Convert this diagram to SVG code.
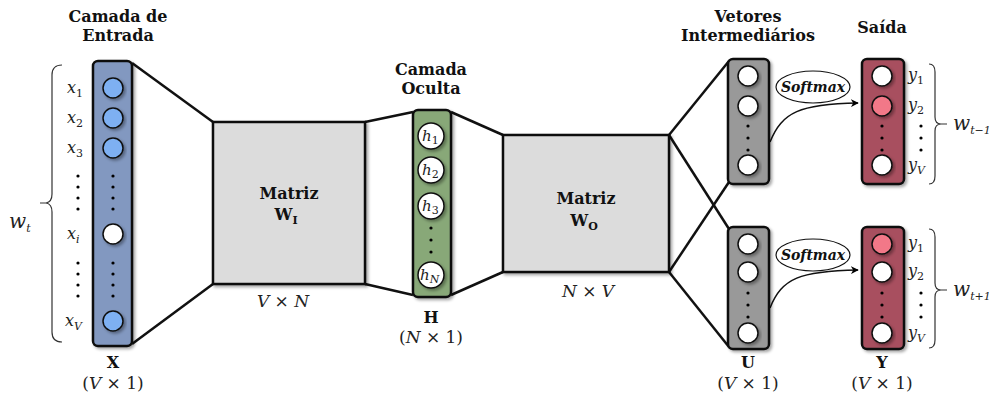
<svg xmlns="http://www.w3.org/2000/svg" width="996" height="401" viewBox="0 0 996 401">
<defs>
<filter id="sh" x="-20%" y="-20%" width="140%" height="140%">
<feDropShadow dx="2" dy="2" stdDeviation="1.5" flood-color="#000" flood-opacity="0.35"/>
</filter>
<marker id="arr" viewBox="0 0 10 10" refX="9" refY="5" markerWidth="8" markerHeight="8" markerUnits="userSpaceOnUse" orient="auto">
<path d="M0,0 L10,5 L0,10 L3,5 z" fill="#000"/>
</marker>
<g id="dots3"><circle cx="0" cy="0" r="1.6"/><circle cx="0" cy="12" r="1.6"/><circle cx="0" cy="24" r="1.6"/></g>
<g id="dots4"><circle cx="0" cy="0" r="1.6"/><circle cx="0" cy="11" r="1.6"/><circle cx="0" cy="22" r="1.6"/><circle cx="0" cy="33" r="1.6"/></g>
</defs>
<style>
.title{font-family:"DejaVu Serif","Liberation Serif",serif;font-weight:bold;font-size:16px;text-anchor:middle;fill:#111}
.mlab{font-family:"DejaVu Serif","Liberation Serif",serif;font-weight:bold;font-size:16px;text-anchor:middle;fill:#111}
.math{font-family:"DejaVu Serif","Liberation Serif",serif;font-style:italic;font-size:16px;fill:#222}
.mathc{font-family:"DejaVu Serif","Liberation Serif",serif;font-style:italic;font-size:17px;fill:#222;text-anchor:middle}
.big{font-size:20px}
.hm{font-size:15px}
.up{font-style:normal}
.sub{font-size:11px}
.bold{font-family:"DejaVu Serif","Liberation Serif",serif;font-weight:bold;font-size:16px;text-anchor:middle;fill:#111}
.bar{stroke:#111;stroke-width:2.5}
.node{stroke:#111;stroke-width:1.5}
.mat{fill:#dcdcdc;stroke:#111;stroke-width:2.5}
.conn{stroke:#111;stroke-width:2.5;fill:none}
.brace{stroke:#333;stroke-width:1.2;fill:none}
.sm{font-family:"DejaVu Serif","Liberation Serif",serif;font-style:italic;font-weight:bold;font-size:14px;text-anchor:middle;fill:#111}
</style>

<g id="connectors">
<line class="conn" x1="132" y1="63" x2="213" y2="122"/>
<line class="conn" x1="132" y1="344" x2="213" y2="284"/>
<line class="conn" x1="365" y1="122" x2="413" y2="112"/>
<line class="conn" x1="365" y1="284" x2="413" y2="295"/>
<line class="conn" x1="451" y1="112" x2="503" y2="135"/>
<line class="conn" x1="451" y1="295" x2="503" y2="272"/>
<line class="conn" x1="669" y1="135" x2="729" y2="61"/>
<line class="conn" x1="669" y1="135" x2="729" y2="229"/>
<line class="conn" x1="669" y1="272" x2="729" y2="182"/>
<line class="conn" x1="669" y1="272" x2="729" y2="347"/>
<path d="M770,142 C782,112 800,104 858,103" stroke="#111" stroke-width="1.5" fill="none" marker-end="url(#arr)"/>
<path d="M770,308 C782,278 800,271 858,270" stroke="#111" stroke-width="1.5" fill="none" marker-end="url(#arr)"/>
</g>

<g id="input">
<text class="title" x="118" y="22">Camada de</text>
<text class="title" x="118" y="41">Entrada</text>
<rect class="bar" x="93" y="61" width="39" height="285" rx="5" fill="#8298c0" filter="url(#sh)"/>
<g class="node" fill="#7eb0f2" filter="url(#sh)">
<circle cx="113" cy="88" r="10"/>
<circle cx="113" cy="118" r="10"/>
<circle cx="113" cy="148" r="10"/>
<circle cx="113" cy="234" r="10" fill="#fff"/>
<circle cx="113" cy="321" r="10"/>
</g>
<use href="#dots4" x="113" y="176"/>
<use href="#dots4" x="113" y="263"/>
<use href="#dots4" x="78" y="176"/>
<use href="#dots4" x="78" y="263"/>
<text class="math" x="67" y="93">x<tspan class="sub up" dy="4">1</tspan></text>
<text class="math" x="67" y="123">x<tspan class="sub up" dy="4">2</tspan></text>
<text class="math" x="67" y="153">x<tspan class="sub up" dy="4">3</tspan></text>
<text class="math" x="67" y="239">x<tspan class="sub" dy="4">i</tspan></text>
<text class="math" x="65" y="326">x<tspan class="sub" dy="4">V</tspan></text>
<path class="brace" d="M62,65 Q52,65 52,75 L52,194 Q52,202 46,203 L40,203 M46,203 Q52,204 52,212 L52,332 Q52,342 62,342"/>
<text class="math big" x="9" y="228">w<tspan class="sub" dy="4">t</tspan></text>
<text class="bold" x="113" y="368">X</text>
<text class="mathc" x="113" y="389"><tspan class="up">(</tspan>V <tspan class="up">× 1)</tspan></text>
</g>

<g id="matrix-wi">
<rect class="mat" x="213" y="122" width="152" height="162" filter="url(#sh)"/>
<text class="mlab" x="289" y="199">Matriz</text>
<text class="mlab" x="286" y="220">W<tspan font-size="11" dy="4">I</tspan></text>
<text class="mathc" x="283" y="307">V <tspan class="up">×</tspan> N</text>
</g>

<g id="hidden">
<text class="title" x="431" y="75">Camada</text>
<text class="title" x="431" y="94">Oculta</text>
<rect class="bar" x="413" y="110" width="38" height="187" rx="5" fill="#88a878" filter="url(#sh)"/>
<g class="node" fill="#fff" filter="url(#sh)">
<circle cx="431" cy="136" r="13"/>
<circle cx="431" cy="170" r="13"/>
<circle cx="431" cy="206" r="13"/>
<circle cx="431" cy="275" r="13"/>
</g>
<use href="#dots3" x="431" y="228"/>
<text class="math hm" x="422" y="141">h<tspan class="sub up" dy="3">1</tspan></text>
<text class="math hm" x="422" y="175">h<tspan class="sub up" dy="3">2</tspan></text>
<text class="math hm" x="422" y="211">h<tspan class="sub up" dy="3">3</tspan></text>
<text class="math hm" x="420" y="280">h<tspan class="sub" dy="3">N</tspan></text>
<text class="bold" x="431" y="323">H</text>
<text class="mathc" x="431" y="343"><tspan class="up">(</tspan>N <tspan class="up">× 1)</tspan></text>
</g>

<g id="matrix-wo">
<rect class="mat" x="503" y="135" width="166" height="137" filter="url(#sh)"/>
<text class="mlab" x="586" y="204">Matriz</text>
<text class="mlab" x="584" y="226">W<tspan font-size="11" dy="4">O</tspan></text>
<text class="mathc" x="588" y="297">N <tspan class="up">×</tspan> V</text>
</g>

<g id="u-vectors">
<text class="title" x="748" y="22">Vetores</text>
<text class="title" x="748" y="41">Intermediários</text>
<rect class="bar" x="728" y="59" width="41" height="125" rx="5" fill="#999999" filter="url(#sh)"/>
<rect class="bar" x="728" y="227" width="41" height="122" rx="5" fill="#999999" filter="url(#sh)"/>
<g class="node" fill="#fff" filter="url(#sh)">
<circle cx="748" cy="76" r="10"/>
<circle cx="748" cy="106" r="10"/>
<circle cx="748" cy="165" r="10"/>
<circle cx="748" cy="244" r="10"/>
<circle cx="748" cy="272" r="10"/>
<circle cx="748" cy="333" r="10"/>
</g>
<use href="#dots3" x="748" y="126"/>
<use href="#dots3" x="748" y="293"/>
<text class="bold" x="748" y="368">U</text>
<text class="mathc" x="748" y="389"><tspan class="up">(</tspan>V <tspan class="up">× 1)</tspan></text>
</g>

<g id="softmax-1">
<ellipse cx="813" cy="87" rx="37" ry="16" fill="#fff" stroke="#111" stroke-width="1.2"/>
<text class="sm" x="813" y="92">Softmax</text>
</g>
<g id="softmax-2">
<ellipse cx="813" cy="255" rx="37" ry="16" fill="#fff" stroke="#111" stroke-width="1.2"/>
<text class="sm" x="813" y="260">Softmax</text>
</g>

<g id="output">
<text class="title" x="882" y="33">Saída</text>
<rect class="bar" x="862" y="59" width="42" height="125" rx="5" fill="#a8505f" filter="url(#sh)"/>
<rect class="bar" x="862" y="227" width="42" height="122" rx="5" fill="#a8505f" filter="url(#sh)"/>
<g class="node" fill="#fff" filter="url(#sh)">
<circle cx="882" cy="76" r="10"/>
<circle cx="882" cy="106" r="10" fill="#f27888"/>
<circle cx="882" cy="165" r="10"/>
<circle cx="882" cy="244" r="10" fill="#f27888"/>
<circle cx="882" cy="272" r="10"/>
<circle cx="882" cy="333" r="10"/>
</g>
<use href="#dots3" x="882" y="126"/>
<use href="#dots3" x="882" y="293"/>
<use href="#dots3" x="921" y="126"/>
<use href="#dots3" x="921" y="293"/>
<text class="math" x="908" y="80">y<tspan class="sub up" dy="4">1</tspan></text>
<text class="math" x="908" y="110">y<tspan class="sub up" dy="4">2</tspan></text>
<text class="math" x="908" y="170">y<tspan class="sub" dy="4">V</tspan></text>
<text class="math" x="908" y="248">y<tspan class="sub up" dy="4">1</tspan></text>
<text class="math" x="908" y="276">y<tspan class="sub up" dy="4">2</tspan></text>
<text class="math" x="908" y="338">y<tspan class="sub" dy="4">V</tspan></text>
<path class="brace" d="M929,64 Q935,64 935,72 L935,117 Q935,124 941,124 L947,124 M941,124 Q935,124 935,131 L935,176 Q935,184 929,184"/>
<path class="brace" d="M929,229 Q935,229 935,237 L935,283 Q935,290 941,290 L947,290 M941,290 Q935,290 935,297 L935,340 Q935,348 929,348"/>
<text class="math big" x="953" y="130">w<tspan class="sub" dy="4">t−1</tspan></text>
<text class="math big" x="953" y="296">w<tspan class="sub" dy="4">t+1</tspan></text>
<text class="bold" x="882" y="368">Y</text>
<text class="mathc" x="882" y="389"><tspan class="up">(</tspan>V <tspan class="up">× 1)</tspan></text>
</g>
</svg>
